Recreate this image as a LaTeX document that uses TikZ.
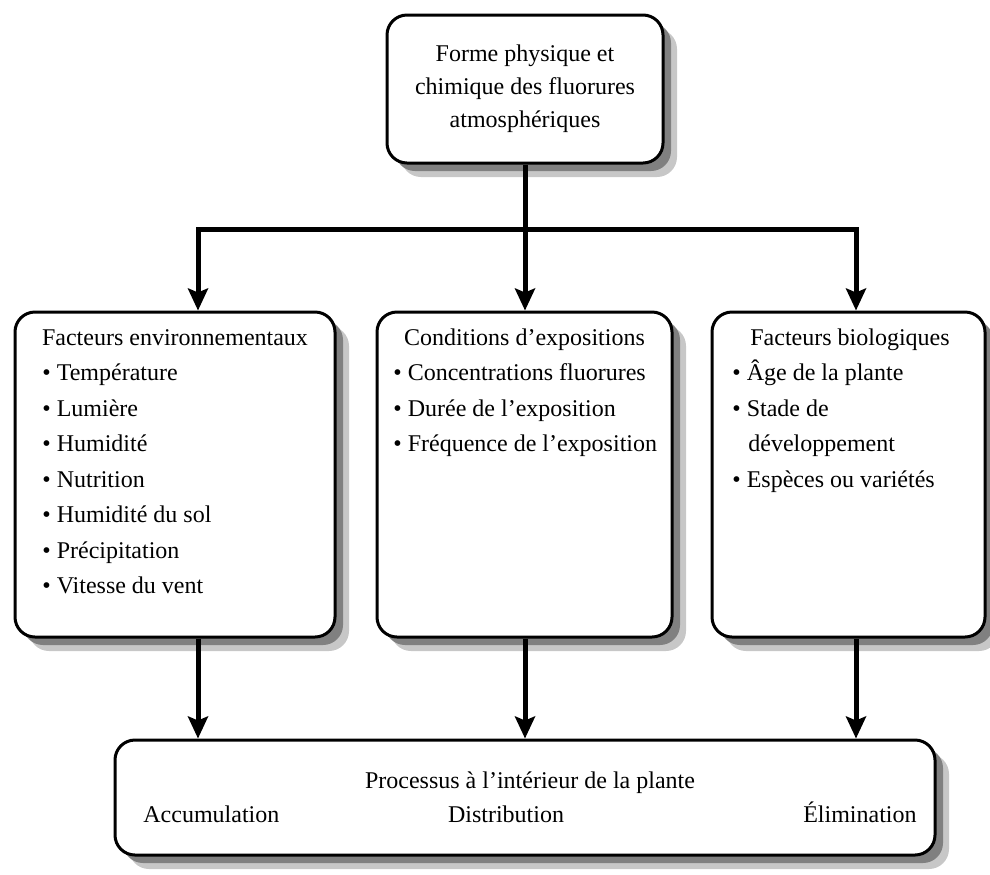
\documentclass[tikz,border=0pt]{standalone}
\usepackage{fontspec}
\setmainfont{Liberation Serif}
\usetikzlibrary{arrows.meta,shadows}

\tikzset{
  boite/.style={draw, line width=1.5pt, rounded corners=10pt, fill=white, inner sep=0pt,
    drop shadow={shadow xshift=7pt, shadow yshift=-7pt, opacity=1, fill=black!22},
    drop shadow={shadow xshift=4pt, shadow yshift=-4pt, opacity=1, fill=black!50}},
  texte/.style={font=\fontsize{12pt}{14pt}\selectfont, inner sep=0pt},
  fleche/.style={line width=2.5pt, -{Stealth[length=11pt,width=10pt,inset=2pt]}}
}

\begin{document}
\begin{tikzpicture}[x=0.5pt, y=-0.5pt]

  % Cadre
  \useasboundingbox (0,0) rectangle (990,874);

  % Boites
  \node[boite, minimum width=138pt, minimum height=74pt, align=center,
        font=\fontsize{12pt}{16.5pt}\selectfont] (forme) at (525,89)
        {Forme physique et\\chimique des fluorures\\atmosphériques};
  \node[boite, minimum width=160pt, minimum height=162.5pt] (envir) at (175,474.5) {};
  \node[boite, minimum width=147.5pt, minimum height=162.5pt] (cond) at (524.5,474.5) {};
  \node[boite, minimum width=136.5pt, minimum height=162.5pt] (bio) at (848.5,474.5) {};
  \node[boite, minimum width=410pt, minimum height=57.5pt] (processus) at (525,797.5) {};

  % Facteurs environnementaux
  \node[texte, anchor=base] (envirTitre) at (175,345) {Facteurs environnementaux};
  \foreach \ligne [count=\i] in {Température, Lumière, Humidité, Nutrition,
      Humidité du sol, Précipitation, Vitesse du vent}
    \node[texte, anchor=base west] (envir\i) at (42,{345+35.5*\i}) {• \ligne};

  % Conditions d'expositions
  \node[texte, anchor=base] (condTitre) at (524.5,345) {Conditions d’expositions};
  \foreach \ligne [count=\i] in {Concentrations fluorures, Durée de l’exposition,
      Fréquence de l’exposition}
    \node[texte, anchor=base west] (cond\i) at (393,{345+35.5*\i}) {• \ligne};

  % Facteurs biologiques
  \node[texte, anchor=base] (bioTitre) at (850,345) {Facteurs biologiques};
  \node[texte, anchor=base west] (bio1) at (732,380.5) {• Âge de la plante};
  \node[texte, anchor=base west] (bio2) at (732,416) {• Stade de};
  \node[texte, anchor=base west] (bio3) at (748,451.5) {développement};
  \node[texte, anchor=base west] (bio4) at (732,487) {• Espèces ou variétés};

  % Processus
  \node[texte, anchor=base] (processusTitre) at (530,788) {Processus à l’intérieur de la plante};
  \node[texte, anchor=base west] (accumulation) at (143,822) {Accumulation};
  \node[texte, anchor=base] (distribution) at (506,822) {Distribution};
  \node[texte, anchor=base east] (elimination) at (917,822) {Élimination};

  % Fleches
  \coordinate (busG) at (198,229);
  \coordinate (busM) at (525,229);
  \coordinate (busD) at (856,229);
  \draw[fleche] (forme.south) -- (forme.south |- cond.north);
  \draw[fleche] (busM) -| (busG |- envir.north);
  \draw[fleche] (busM) -| (busD |- bio.north);
  \draw[fleche] (envir.south -| busG) -- (processus.north -| busG);
  \draw[fleche] (cond.south -| busM) -- (processus.north -| busM);
  \draw[fleche] (bio.south -| busD) -- (processus.north -| busD);

\end{tikzpicture}
\end{document}
